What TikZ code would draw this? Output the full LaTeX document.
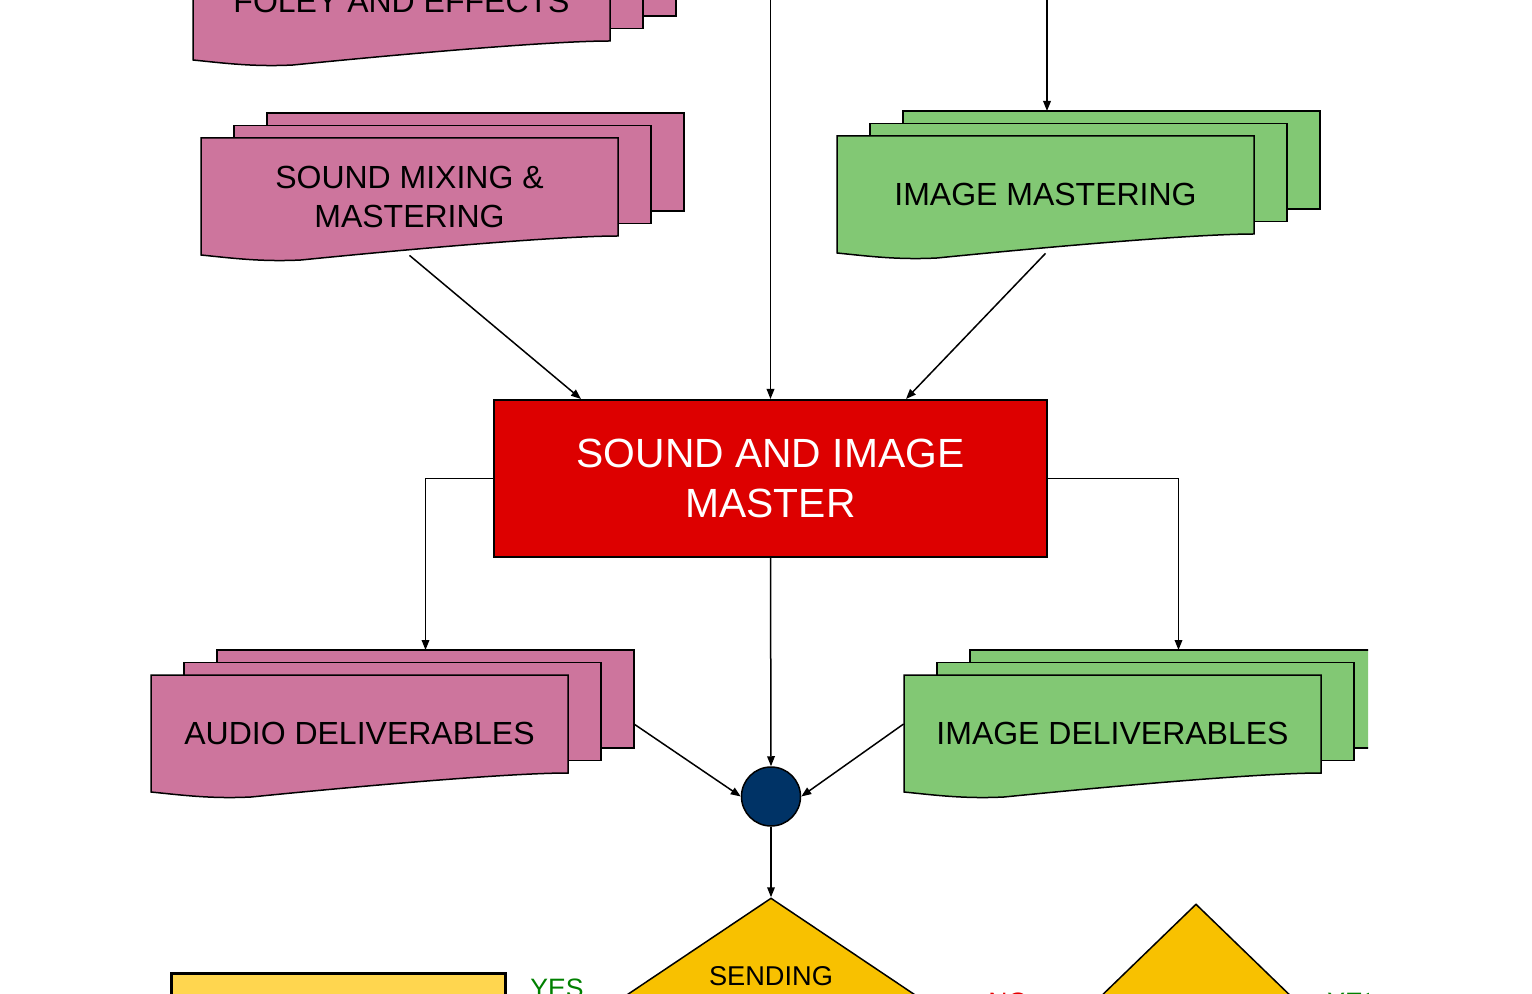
\documentclass[tikz,border=0pt]{standalone}
\usepackage{fontspec}
\setmainfont{Liberation Sans}
\usetikzlibrary{arrows.meta,shapes.geometric,calc}
\definecolor{pinkdoc}{RGB}{205,117,157}
\definecolor{greendoc}{RGB}{130,200,116}
\definecolor{masterred}{RGB}{221,0,0}
\definecolor{hubnavy}{RGB}{0,51,102}
\definecolor{diayellow}{RGB}{248,193,0}
\definecolor{boxyellow}{RGB}{255,214,79}
\definecolor{yesgreen}{RGB}{0,128,0}
\definecolor{nored}{RGB}{230,0,0}

% multi-document shape: name, center, fill, text style, text
\newcommand\mdoc[5]{%
  \begin{scope}[shift={#2}]
    \draw[sheet,fill=#3] (-142.5,-83.5) rectangle (274.5,14.5);
    \draw[sheet,fill=#3] (-175.5,-71) rectangle (241.5,27);
    \draw[sheet,fill=#3] (-208.5,-58.5) -- (208.5,-58.5) -- (208.5,39.5)
      .. controls (151.5,39.5) and (11.5,51.5) .. (-108.5,63.5)
      .. controls (-148.5,65.5) and (-178.5,61.5) .. (-208.5,58.5) -- cycle;
    \coordinate (#1-bt) at (66,-83.5);
    \coordinate (#1-br) at (274.5,-9.5);
  \end{scope}
  \node[doctext,#4] (#1) at #2 {#5};
}

\begin{document}
\begin{tikzpicture}[x=0.5pt,y=-0.5pt,
  sheet/.style={draw=black,line width=0.75pt},
  doctext/.style={draw=none,inner sep=0pt,minimum width=208.5pt,minimum height=58.5pt,align=center,text=black},
  txtA/.style={font=\fontsize{16}{19.5}\selectfont},
  txtB/.style={font=\fontsize{16}{19.5}\selectfont},
  arr/.style={draw=black,line width=0.75pt,-{Triangle[length=5pt,width=3.8pt]}},
  masterbox/.style={rectangle,draw=black,line width=1pt,fill=masterred,text=white,
    minimum width=276.5pt,minimum height=78.5pt,inner sep=0pt,align=center,
    font=\fontsize{20.4}{25}\selectfont},
  hubstyle/.style={circle,draw=black,line width=0.75pt,fill=hubnavy,minimum size=29.5pt,inner sep=0pt},
  dia/.style={diamond,draw=black,line width=0.75pt,fill=diayellow,inner sep=0pt},
  lbl/.style={inner sep=0pt,anchor=base west,font=\fontsize{13.3}{15}\selectfont},
]
\useasboundingbox (0,0) rectangle (1532,994);
\begin{scope}
\clip (0,0) rectangle (1368,994);

\mdoc{foley}{(401.5,1.5)}{pinkdoc}{txtA}{FOLEY AND EFFECTS}
\mdoc{mix}{(409.5,196.5)}{pinkdoc}{txtA}{SOUND MIXING \&\\MASTERING}
\mdoc{imgm}{(1045.5,194.5)}{greendoc}{txtA}{IMAGE MASTERING}
\mdoc{aud}{(359.5,733.5)}{pinkdoc}{txtB}{AUDIO DELIVERABLES}
\mdoc{imd}{(1112.5,733.5)}{greendoc}{txtB}{IMAGE DELIVERABLES}

\node[masterbox] (master) at (770.5,478.5) {SOUND AND IMAGE\\MASTER};
\node[hubstyle] (hub) at (771,796.5) {};

\node[dia,minimum width=223.5pt,minimum height=150pt] (send) at (771,1048) {};
\node[inner sep=0pt,anchor=base,font=\fontsize{13.6}{16}\selectfont] (sendtxt) at (771,985) {SENDING};
\node[dia,minimum width=155pt,minimum height=150pt] (dia2) at (1196,1054) {};

\node[rectangle,draw=black,line width=1.5pt,fill=boxyellow,minimum width=167pt,minimum height=50pt,inner sep=0pt] (ybox) at (338.5,1023.5) {};

\node[lbl,text=yesgreen] (yes1) at (530,997) {YES};
\node[lbl,text=nored] (no1) at (988,1011) {NO};
\node[lbl,text=yesgreen] (yes2) at (1327,1011) {YES};

\coordinate (inA) at (770.5,-20);
\coordinate (inB) at (1047,-20);
\draw[arr] (inA) -- (master.north);
\draw[arr] (inB) -- (inB |- imgm-bt);
\draw[arr] (mix.south) -- ([xshift=44pt]master.north west);
\draw[arr] (imgm.south) -- ([xshift=-71pt]master.north east);
\draw[arr] (master.west) -| (aud-bt);
\draw[arr] (master.east) -| (imd-bt);
\draw[arr] (master.south) -- (hub.north);
\draw[arr] (aud-br) -- (hub.west);
\draw[arr] ([yshift=4.75pt]imd.west) -- (hub.east);
\draw[arr] (hub.south) -- (send.north);
\end{scope}
\end{tikzpicture}
\end{document}
